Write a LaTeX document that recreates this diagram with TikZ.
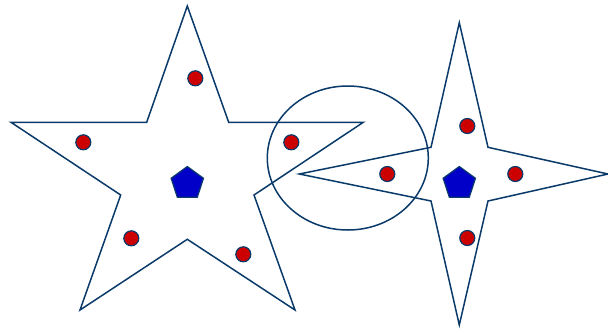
\documentclass[tikz,border=0pt]{standalone}
\usepackage{xcolor}
\usepackage{tikz}
\usetikzlibrary{shapes.geometric}
\definecolor{navy}{HTML}{0A3A6A}
\definecolor{dotred}{HTML}{CC0000}
\definecolor{pentblue}{HTML}{0000C8}

\begin{document}
\begin{tikzpicture}[x=1pt, y=-1pt, line width=1.5pt, line join=miter,
  outline/.style={draw=navy},
  dot/.style={circle, draw=navy, fill=dotred, inner sep=0pt, minimum size=15pt, line width=1.2pt},
  penta/.style={regular polygon, regular polygon sides=5, draw=navy, fill=pentblue, inner sep=0pt, minimum size=34pt, line width=1.2pt}]
\useasboundingbox (0,0) rectangle (608,330);
% five-pointed star
\draw[outline] (187.3,6) -- (228.7,122.3) -- (363.3,122.3) -- (254,195) -- (295,310) -- (187.3,239.3)
  -- (80,310) -- (120.7,195) -- (11,122.3) -- (146.7,122.3) -- cycle;
% circle
\draw[outline] (347.8,158) ellipse [x radius=80.5, y radius=72];
% four-pointed star
\draw[outline] (459.3,22.7) -- (488,147.3) -- (608,174) -- (488,201) -- (459.3,325) -- (431,201)
  -- (299.3,174) -- (431,147.3) -- cycle;
\node[penta] (pentA) at (187.3,183.5) {};
\node[dot] (dotA1) at (195.3,78.3) {};
\node[dot] (dotA2) at (83.3,142.3) {};
\node[dot] (dotA3) at (291.3,142.3) {};
\node[dot] (dotA4) at (131.3,238.3) {};
\node[dot] (dotA5) at (243.3,254.3) {};
\node[penta] (pentB) at (459.3,183.5) {};
\node[dot] (dotB1) at (467.3,126) {};
\node[dot] (dotB2) at (387.3,174) {};
\node[dot] (dotB3) at (515.3,174) {};
\node[dot] (dotB4) at (467.3,238) {};
\end{tikzpicture}
\end{document}
